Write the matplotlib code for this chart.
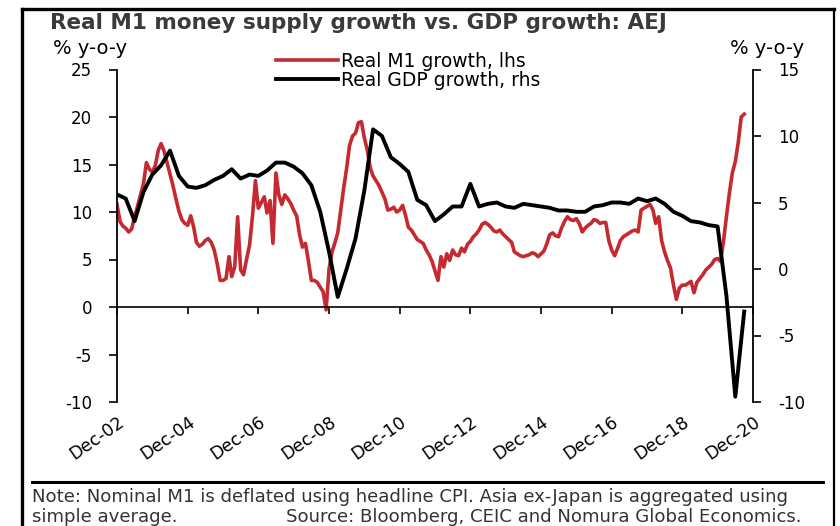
import matplotlib
matplotlib.use("Agg")
import matplotlib.pyplot as plt
from matplotlib.lines import Line2D
import pandas as pd

plt.rcParams["axes.unicode_minus"] = False

# ---------------- data ----------------
m1_growth = [
    10.8, 9.0, 8.5, 8.3, 7.9, 8.2, 9.5, 10.6, 11.8, 13.0,
    15.2, 14.5, 14.2, 14.9, 16.5, 17.2, 16.4, 15.2, 14.0, 12.8,
    11.4, 10.1, 9.2, 8.8, 8.6, 9.6, 8.4, 6.8, 6.4, 6.6,
    7.0, 7.2, 6.8, 6.0, 4.6, 2.8, 2.8, 3.0, 5.3, 3.2,
    4.2, 9.5, 3.9, 3.4, 5.0, 6.5, 9.5, 13.3, 10.4, 11.0,
    11.6, 9.9, 11.2, 6.7, 14.1, 11.8, 10.8, 11.8, 11.4, 10.9,
    10.2, 9.6, 7.6, 6.3, 6.7, 4.9, 2.8, 2.8, 2.6, 2.1,
    1.6, -0.3, 4.0, 5.8, 6.8, 7.8, 10.2, 12.5, 14.6, 17.0,
    18.0, 18.3, 19.4, 19.5, 17.8, 16.5, 14.6, 13.8, 13.3, 12.8,
    12.1, 11.4, 10.2, 10.3, 10.5, 10.0, 10.2, 10.7, 9.6, 8.4,
    8.1, 7.6, 7.1, 6.9, 6.7, 6.0, 5.5, 4.8, 3.8, 2.8,
    5.3, 4.2, 5.6, 4.9, 6.0, 5.5, 5.4, 6.2, 5.8, 6.6,
    6.9, 7.4, 7.7, 8.1, 8.7, 8.9, 8.7, 8.4, 8.0, 7.9,
    8.1, 7.7, 7.4, 7.1, 6.8, 5.8, 5.6, 5.4, 5.3, 5.4,
    5.5, 5.7, 5.6, 5.3, 5.6, 5.9, 6.7, 7.6, 7.8, 7.5,
    7.4, 8.3, 9.0, 9.5, 9.2, 9.1, 9.3, 8.8, 7.9, 8.3,
    8.6, 8.8, 9.2, 9.1, 8.8, 8.9, 8.9, 7.0, 6.0, 5.4,
    6.2, 7.0, 7.4, 7.6, 7.8, 8.0, 8.1, 7.9, 10.2, 10.4,
    10.6, 10.8, 10.2, 8.8, 9.5, 7.0, 5.8, 4.9, 4.1, 2.3,
    0.8, 2.0, 2.3, 2.3, 2.5, 2.7, 1.5, 2.6, 3.0, 3.4,
    3.9, 4.2, 4.5, 5.0, 5.1, 4.8, 7.0, 9.5, 12.0, 14.1,
    15.3, 17.3, 20.0, 20.3,
]

gdp_growth = [
    5.6, 5.3, 3.6, 5.8, 7.1, 7.8, 8.9, 7.0, 6.2, 6.1,
    6.3, 6.7, 7.0, 7.5, 6.8, 7.1, 7.0, 7.4, 8.0, 8.0,
    7.7, 7.2, 6.3, 4.3, 1.3, -2.1, 0.0, 2.3, 5.9, 10.5,
    10.0, 8.4, 7.9, 7.3, 5.2, 4.8, 3.6, 4.1, 4.7, 4.7,
    6.4, 4.7, 4.9, 5.0, 4.7, 4.6, 4.9, 4.8, 4.7, 4.6,
    4.4, 4.4, 4.3, 4.3, 4.7, 4.8, 5.0, 5.0, 4.9, 5.3,
    5.1, 5.3, 4.9, 4.3, 4.0, 3.6, 3.5, 3.3, 3.2, -2.0,
    -9.6, -3.2,
]

tick_labels = ["Dec-02", "Dec-04", "Dec-06", "Dec-08", "Dec-10",
               "Dec-12", "Dec-14", "Dec-16", "Dec-18", "Dec-20"]
left_ticks = [-10, -5, 0, 5, 10, 15, 20, 25]
right_ticks = [-10, -5, 0, 5, 10, 15]

m1_dates = pd.date_range("2002-12-01", periods=len(m1_growth), freq="MS")
gdp_dates = pd.date_range("2002-12-01", periods=len(gdp_growth), freq="3MS")
tick_dates = [pd.Timestamp("20" + t[-2:] + "-12-01") for t in tick_labels]

RED = "#C42A30"
W, H = 840, 526

fig = plt.figure(figsize=(W / 100, H / 100), dpi=100)
fig.patch.set_facecolor("white")

ax = fig.add_axes([117 / W, 1 - 402 / H, (753 - 117) / W, (402 - 69.5) / H])
ax2 = ax.twinx()

l1, = ax.plot(m1_dates, m1_growth, color=RED, lw=2.6, solid_joinstyle="round",
              label="Real M1 growth, lhs")
l2, = ax2.plot(gdp_dates, gdp_growth, color="black", lw=2.8, solid_joinstyle="round",
               label="Real GDP growth, rhs")

ax.set_xlim(pd.Timestamp("2002-12-01"), pd.Timestamp("2020-12-01"))
ax.set_ylim(-10, 25)
ax2.set_ylim(-10, 15)

ax.set_yticks(left_ticks)
ax2.set_yticks(right_ticks)

for a in (ax, ax2):
    a.patch.set_visible(False)
    for s in a.spines.values():
        s.set_visible(False)
ax.spines["left"].set_visible(True)
ax.spines["left"].set_linewidth(1.3)
ax2.spines["right"].set_visible(True)
ax2.spines["right"].set_linewidth(1.3)

ax.tick_params(axis="y", direction="out", length=6, width=1.2, labelsize=12, pad=12)
ax2.tick_params(axis="y", direction="out", length=6, width=1.2, labelsize=12, pad=12)

# zero line with tick marks
ax.axhline(0, color="black", lw=1.2)
ylo, yhi = ax.get_ylim()
sec = ax.secondary_xaxis((0 - ylo) / (yhi - ylo))
sec.set_xticks(tick_dates)
sec.set_xticklabels([])
sec.spines["bottom"].set_visible(False)
sec.spines["top"].set_visible(False)
sec.tick_params(axis="x", direction="out", length=5, width=1.2)

# date labels at the bottom
ax.set_xticks(tick_dates)
ax.set_xticklabels(tick_labels, rotation=35, ha="right", va="top",
                   rotation_mode="anchor", fontsize=12.5)
ax.tick_params(axis="x", length=0, pad=8)

# legend
fig.legend([l1, l2], [l1.get_label(), l2.get_label()], loc="upper left",
           bbox_to_anchor=(276 / W, 1 - 52 / H), frameon=False, fontsize=13.5,
           handlelength=3.3, handletextpad=0.15, labelspacing=0.0,
           borderpad=0, borderaxespad=0)

# titles / axis unit labels
fig.text(50 / W, 1 - 23 / H, "Real M1 money supply growth vs. GDP growth: AEJ",
         fontsize=15.5, fontweight="bold", color="#3a3a3a", ha="left", va="center")
fig.text(53 / W, 1 - 48 / H, "% y-o-y", fontsize=14, ha="left", va="center")
fig.text(804 / W, 1 - 48 / H, "% y-o-y", fontsize=14, ha="right", va="center")

# frame and separator
def fline(x0, y0, x1, y1, lw):
    fig.add_artist(Line2D([x0 / W, x1 / W], [1 - y0 / H, 1 - y1 / H],
                          color="black", lw=lw, transform=fig.transFigure))

fline(22, 9, 834, 9, 2.4)
fline(22, 9, 22, 530, 2.4)
fline(834, 9, 834, 530, 1.6)
fline(32, 482, 823, 482, 2.2)

note_font = dict(family="DejaVu Sans", fontsize=13.1, color="#333333")
fig.text(32 / W, 1 - 497 / H,
         "Note: Nominal M1 is deflated using headline CPI. Asia ex-Japan is aggregated using",
         ha="left", va="center", **note_font)
fig.text(32 / W, 1 - 517 / H, "simple average.", ha="left", va="center", **note_font)
fig.text(802 / W, 1 - 517 / H, "Source: Bloomberg, CEIC and Nomura Global Economics.",
         ha="right", va="center", **note_font)

fig.savefig("out.png", dpi=100, facecolor="white")
